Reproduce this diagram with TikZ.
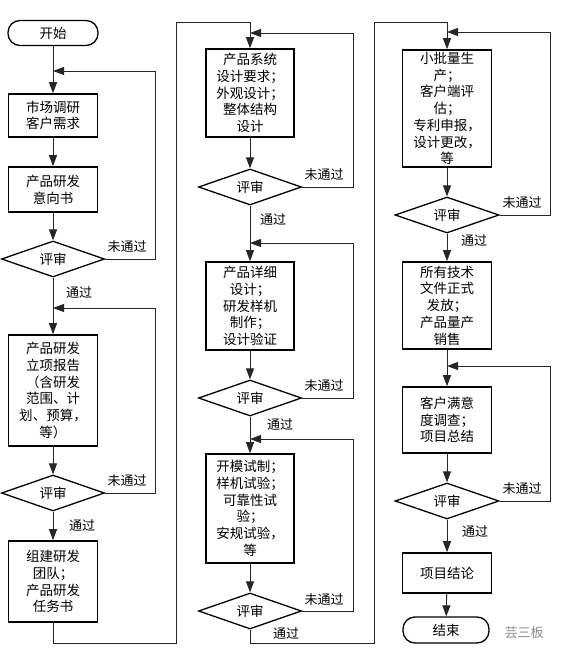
\documentclass[tikz,border=0pt]{standalone}
\usepackage{fontspec}
\setmainfont{Noto Sans CJK SC}
\usetikzlibrary{shapes.geometric,arrows.meta}
\begin{document}
\begin{tikzpicture}[x=1pt,y=-1pt,
  box/.style={draw=black,line width=1.6pt,minimum width=89pt,align=center,inner sep=0pt,font=\fontsize{13.5}{16.7}\selectfont},
  dec/.style={diamond,draw=black,line width=1.3pt,minimum width=103pt,minimum height=36pt,aspect=2.8,inner sep=0pt,font=\fontsize{13.5}{16}\selectfont},
  term/.style={draw=black,line width=1.3pt,rounded corners=12pt,minimum width=90pt,minimum height=25pt,inner sep=0pt,font=\fontsize{13.5}{16}\selectfont},
  conn/.style={draw=black!85,line width=0.9pt},
  arr/.style={conn,-{Triangle[length=11pt,width=8pt]}},
  lab/.style={font=\fontsize{13}{15}\selectfont,inner sep=0pt}]
\fill[white] (0,0) rectangle (564,658);
\useasboundingbox (0,0) rectangle (564,658);

% ---------- column 1 ----------
\node[term] (start) at (53,33) {开始};
\node[box,minimum height=43pt] (b1) at (53,115.5) {市场调研\\客户需求};
\node[box,minimum height=45pt] (b2) at (53,189.5) {产品研发\\意向书};
\node[dec] (d1) at (53,259) {评审};
\node[box,minimum height=111pt] (b3) at (53,390.5) {产品研发\\立项报告\\（含研发\\范围、计\\划、预算，\\等）};
\node[dec] (d2) at (53,493) {评审};
\node[box,minimum height=81pt] (b4) at (53,581.5) {组建研发\\团队；\\产品研发\\任务书};

% ---------- column 2 ----------
\node[box,minimum width=88pt,minimum height=88pt] (b5) at (250,93) {产品系统\\设计要求；\\外观设计；\\整体结构\\设计};
\node[dec] (d3) at (250,187) {评审};
\node[box,minimum width=88pt,minimum height=88pt] (b6) at (250,306) {产品详细\\设计；\\研发样机\\制作；\\设计验证};
\node[dec] (d4) at (250,398) {评审};
\node[box,minimum width=88pt,minimum height=109pt] (b7) at (250,508.5) {开模试制；\\样机试验；\\可靠性试\\验；\\安规试验，\\等};
\node[dec] (d5) at (250,611) {评审};

% ---------- column 3 ----------
\node[box,minimum height=117pt] (b8) at (447,108.5) {小批量生\\产；\\客户端评\\估；\\专利申报，\\设计更改，\\等};
\node[dec,minimum width=104pt] (d6) at (447,215) {评审};
\node[box,minimum height=87pt] (b9) at (447,305.5) {所有技术\\文件正式\\发放；\\产品量产\\销售};
\node[box,minimum height=66pt] (b10) at (447,420) {客户满意\\度调查；\\项目总结};
\node[dec,minimum width=104pt] (d7) at (447,501) {评审};
\node[box,minimum height=40pt] (b11) at (447,573) {项目结论};
\node[term,minimum width=86pt,minimum height=26pt] (end) at (446,630) {结束};

% ---------- coordinates ----------
\coordinate (f1) at (53,71);  \coordinate (r1) at (155,71);
\coordinate (f2) at (53,308); \coordinate (r2) at (155,308);
\coordinate (c1b) at (176,643); \coordinate (c1t) at (176,22);
\coordinate (f3) at (250,33);  \coordinate (r3) at (353,33);
\coordinate (f4) at (250,243); \coordinate (r4) at (353,243);
\coordinate (f5) at (250,439); \coordinate (r5) at (353,439);
\coordinate (c2b) at (374,643); \coordinate (c2t) at (374,22);
\coordinate (f6) at (447,32);  \coordinate (r6) at (550,32);
\coordinate (f7) at (447,366); \coordinate (r7) at (550,366);

% ---------- connectors ----------
\draw[arr] (start) -- (b1);
\draw[arr] (b1) -- (b2);
\draw[arr] (b2) -- (d1);
\draw[arr] (d1) -- (b3);
\draw[arr] (b3) -- (d2);
\draw[arr] (d2) -- (b4);
\draw[arr] (d1.east) -| (r1) -- (f1);
\draw[arr] (d2.east) -| (r2) -- (f2);
\draw[arr] (b4.south) |- (c1b) -- (c1t) -| (b5.north);

\draw[arr] (b5) -- (d3);
\draw[arr] (d3) -- (b6);
\draw[arr] (b6) -- (d4);
\draw[arr] (d4) -- (b7);
\draw[arr] (b7) -- (d5);
\draw[arr] (d3.east) -| (r3) -- (f3);
\draw[arr] (d4.east) -| (r4) -- (f4);
\draw[arr] (d5.east) -| (r5) -- (f5);
\draw[arr] (d5.south) |- (c2b) -- (c2t) -| (b8.north);

\draw[arr] (b8) -- (d6);
\draw[arr] (d6) -- (b9);
\draw[arr] (b9) -- (b10);
\draw[arr] (b10) -- (d7);
\draw[arr] (d7) -- (b11);
\draw[arr] (b11) -- (end);
\draw[arr] (d6.east) -| (r6) -- (f6);
\draw[arr] (d7.east) -| (r7) -- (f7);

% ---------- labels ----------
\node[lab] (n1) at (127,247) {未通过};
\node[lab] (p1) at (79,293) {通过};
\node[lab] (n2) at (127,481) {未通过};
\node[lab] (p2) at (82,526) {通过};
\node[lab] (n3) at (324,175) {未通过};
\node[lab] (p3) at (273,220) {通过};
\node[lab] (n4) at (324,386) {未通过};
\node[lab] (p4) at (280,425) {通过};
\node[lab] (n5) at (324,600) {未通过};
\node[lab] (p5) at (286,634) {通过};
\node[lab] (n6) at (522,203) {未通过};
\node[lab] (p6) at (474,241) {通过};
\node[lab] (n7) at (522,489) {未通过};
\node[lab] (p7) at (475,532) {通过};

\node[lab,text=black!45] (wm) at (524,633) {芸三板};
\end{tikzpicture}
\end{document}
